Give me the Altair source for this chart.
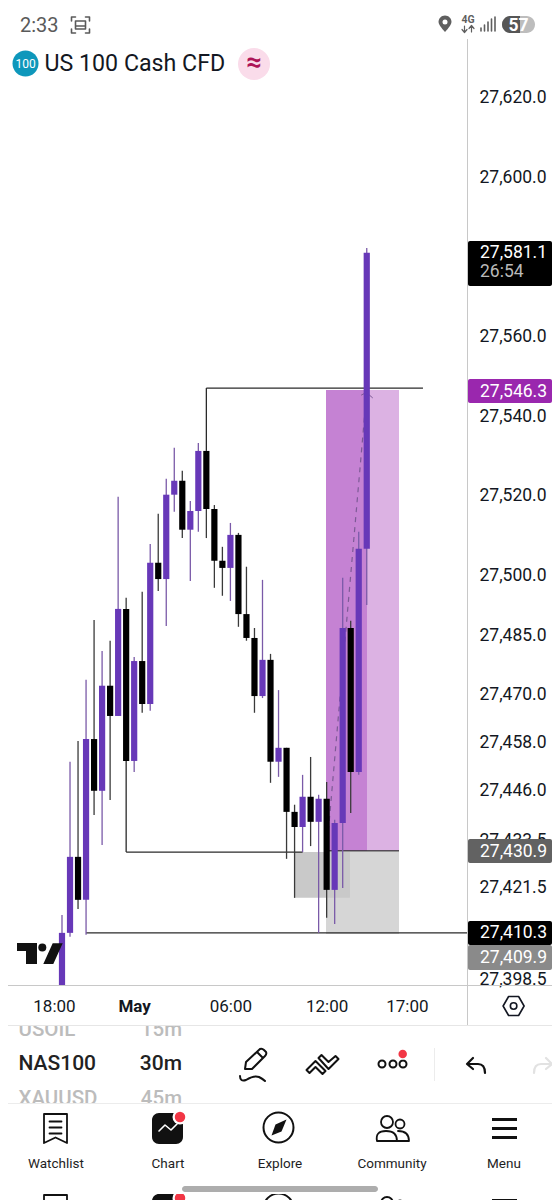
import altair as alt
import pandas as pd

# ---------- candle values ----------
opens = [27396.7,27409.8,27428.9,27418.1,27458.5,27445.5,27471.9,27464.3,27491.2,27453.0,
         27478.1,27467.3,27502.8,27498.7,27519.9,27523.4,27511.1,27515.8,27530.9,27516.3,
         27503.3,27501.5,27509.8,27489.9,27483.9,27469.3,27478.4,27452.8,27456.3,27440.2,
         27436.4,27444.0,27437.7,27443.5,27420.6,27437.4,27486.4,27450.2,27506.3]
highs = [27414.3,27452.8,27458.0,27473.4,27488.4,27480.6,27483.2,27519.4,27494.0,27479.1,
         27495.5,27507.5,27515.1,27523.9,27531.7,27525.9,27518.3,27532.9,27530.9,27517.3,
         27506.8,27512.8,27510.3,27501.8,27486.4,27498.5,27479.9,27470.8,27456.3,27442.0,
         27449.5,27454.0,27444.5,27447.7,27438.2,27499.0,27488.2,27510.6,27581.9]
lows = [27396.7,27408.8,27415.8,27409.3,27439.4,27431.9,27443.2,27464.3,27453.0,27450.2,
        27465.1,27465.6,27495.7,27486.9,27515.6,27509.0,27498.2,27510.6,27509.0,27496.5,
        27494.5,27493.2,27486.7,27483.2,27465.1,27468.8,27447.5,27449.0,27428.4,27418.6,
        27430.1,27431.6,27409.8,27413.6,27412.0,27421.1,27439.9,27449.5,27492.2]
closes = [27409.8,27428.9,27418.1,27458.5,27445.5,27471.9,27464.3,27491.2,27453.0,27478.1,
          27467.3,27502.8,27498.7,27519.9,27523.4,27511.1,27515.8,27530.9,27516.3,27503.3,
          27501.5,27509.8,27489.9,27483.9,27469.3,27478.4,27452.8,27456.3,27440.2,27436.4,
          27444.0,27437.7,27443.5,27420.6,27437.4,27486.4,27450.2,27506.3,27580.7]

price_ticks = [27620,27600,27560,27540,27520,27500,27485,27470,27458,27446,27433.5,27421.5,27398.5]
time_ticks = [-1,9,21,33,43]
time_labels = ["18:00","May","06:00","12:00","17:00"]

box_x1 = [32.92,32.92,32.92,28.93]
box_x2 = [42.02,38.03,42.02,35.91]
box_y1 = [27546.2,27546.2,27430.1,27430.1]
box_y2 = [27430.4,27430.4,27409.5,27418.6]
box_col = ["#dcb2e3","#c582d3","#d6d6d6","#c9c9c9"]

hline_x1 = [18,8,32.92,3]
hline_x2 = [45.01,30,42.02,50.5]
hline_y = [27546.7,27430.1,27430.4,27409.8]
vline_x = [18,8]
vline_y1 = [27530.9,27453.0]
vline_y2 = [27546.7,27430.1]

dash_x = [33,38]
dash_y = [27430.4,27546.0]
arrow_x = [37.3,37.95,38.75]
arrow_y = [27544.9,27545.6,27544.2]

PURPLE = "#6738b8"
PURPLE_W = "#7a5aa8"
BLACK = "#000000"
BLACK_W = "#3a3a3a"
FONT = "Roboto"
INK = "#131722"

df = pd.DataFrame({"i": range(len(opens)), "o": opens, "h": highs, "l": lows, "c": closes})
df["top"] = df[["o", "c"]].max(axis=1)
df["bot"] = df[["o", "c"]].min(axis=1)
df["col"] = [PURPLE if c >= o else BLACK for o, c in zip(opens, closes)]
df["wcol"] = [PURPLE_W if c >= o else BLACK_W for o, c in zip(opens, closes)]

x_scale = alt.Scale(domain=[-6.733, 50.5], nice=False, zero=False)
y_scale = alt.Scale(domain=[27396.7, 27634.4], nice=False, zero=False)
expr = "datum.value==-1?'18:00':datum.value==9?'May':datum.value==21?'06:00':datum.value==33?'12:00':'17:00'"
x_axis = alt.Axis(values=time_ticks, labelExpr=expr, title=None, grid=False, ticks=False, domain=True,
                  domainColor="#c8c8c8", labelFont=FONT, labelFontSize=17, labelColor=INK, labelPadding=13,
                  labelOverlap=False, labelFontWeight=alt.expr("datum.value==9?'bold':'normal'"))
y_axis = alt.Axis(orient="right", values=price_ticks, format=",.1f", title=None, grid=False, ticks=False,
                  domain=False, labelFont=FONT, labelFontSize=17.5, labelColor=INK, labelPadding=12,
                  labelOffset=1.5, labelOverlap=False, labelBound=False, labelFlush=False)

def X(f):
    return alt.X(f, type="quantitative", scale=x_scale, axis=x_axis)

def Y(f):
    return alt.Y(f, type="quantitative", scale=y_scale, axis=y_axis)

one = pd.DataFrame({"a": [0]})
PX = lambda v: alt.value(v - 8)
PY = lambda v: alt.value(v - 39)
ui = []

def text(t, x, y, size=14, color=INK, align="left", weight="normal"):
    ui.append(alt.Chart(one).mark_text(font=FONT, fontSize=size, color=color, align=align, baseline="middle",
                                       fontWeight=weight)
              .encode(text=alt.value(t), x=PX(x), y=PY(y)))

def rect(x1, x2, y1, y2, color, radius=0):
    ui.append(alt.Chart(one).mark_rect(color=color, cornerRadius=radius, opacity=1)
              .encode(x=PX(x1), x2=PX(x2), y=PY(y1), y2=PY(y2)))

def icon(path, x, y, stroke=None, fill=None, width=1.8):
    kw = dict(shape=path, size=4, opacity=1, strokeJoin="round", strokeCap="round")
    if fill:
        kw.update(filled=True, fill=fill, strokeWidth=0)
    else:
        kw.update(filled=False, stroke=stroke, strokeWidth=width, fill="transparent")
    ui.append(alt.Chart(one).mark_point(**kw).encode(x=PX(x), y=PY(y)))

def dot(x, y, d, fill=None, stroke=None, width=1.8):
    if fill:
        m = alt.Chart(one).mark_point(shape="circle", size=d * d, filled=True, fill=fill, opacity=1, strokeWidth=0)
    else:
        m = alt.Chart(one).mark_point(shape="circle", size=d * d, filled=False, stroke=stroke, strokeWidth=width, opacity=1)
    ui.append(m.encode(x=PX(x), y=PY(y)))

# ---------- chart marks ----------
boxes = alt.Chart(pd.DataFrame({"x1": box_x1, "x2": box_x2, "y1": box_y1, "y2": box_y2, "col": box_col})).mark_rect(opacity=1).encode(
    x=X("x1"), x2="x2:Q", y=Y("y1"), y2="y2:Q", color=alt.Color("col:N", scale=None))
hl = alt.Chart(pd.DataFrame({"x1": hline_x1, "x2": hline_x2, "y": hline_y})).mark_rule(color="#2a2a2a", strokeWidth=1.3).encode(
    x=X("x1"), x2="x2:Q", y=Y("y"))
vl = alt.Chart(pd.DataFrame({"x": vline_x, "y1": vline_y1, "y2": vline_y2})).mark_rule(color="#2a2a2a", strokeWidth=1.3).encode(
    x=X("x"), y=Y("y1"), y2="y2:Q")
dash = alt.Chart(pd.DataFrame({"x": dash_x, "y": dash_y})).mark_line(color="#7d5a96", strokeWidth=1.2, strokeDash=[5, 5]).encode(
    x=X("x"), y=Y("y"))
arrow = alt.Chart(pd.DataFrame({"x": arrow_x, "y": arrow_y})).mark_line(color="#7d5a96", strokeWidth=1).encode(
    x=X("x"), y=Y("y"))
wicks = alt.Chart(df).mark_rule(strokeWidth=1.3).encode(
    x=X("i"), y=Y("h"), y2="l:Q", color=alt.Color("wcol:N", scale=None))
bodies = alt.Chart(df).mark_rule(strokeWidth=6.2).encode(
    x=X("i"), y=Y("top"), y2="bot:Q", color=alt.Color("col:N", scale=None))

# ---------- TradingView mark ----------
icon("M-23 -10.5 H-3 V10.5 H-14 V-2.5 H-23 Z M12.7 -10.2 H22.7 L13.3 10.5 H3.3 Z", 40, 953.5, fill="#111111")
dot(42.3, 947.5, 8, fill="#111111")

# ---------- frame lines ----------
rect(8, 552, 985, 986, "#c8c8c8")
rect(467, 468, 39, 1025, "#c8c8c8")

# ---------- price tags ----------
rect(468, 552, 241, 286, "#000000", 2)
text("27,581.1", 480, 253, 17.5, "#ffffff")
text("26:54", 480, 272, 17.5, "#b9b9b9")
rect(468, 552, 379, 403, "#9a27ae", 2)
text("27,546.3", 480, 392, 17.5, "#ffffff")
rect(468, 552, 839, 863, "#626262", 2)
text("27,430.9", 480, 852, 17.5, "#ffffff")
rect(468, 552, 921, 945, "#000000", 2)
text("27,410.3", 480, 933, 17.5, "#ffffff")
rect(468, 552, 945, 970, "#8a8a8a", 2)
text("27,409.9", 480, 958, 17.5, "#ffffff")

# ---------- status bar ----------
text("2:33", 20, 26, 20, "#5a5a5a")
icon("M-9 -4 V-8 H-5 M5 -8 H9 V-4 M9 4 V8 H5 M-5 8 H-9 V4", 80.5, 25, stroke="#5a5a5a", width=1.6)
icon("M-5 -4 H5 V4 H-5 Z M-5 1 H5", 80.5, 25, stroke="#5a5a5a", width=1.6)
icon("M0 8 Q-6.5 1 -6.5 -2 A6.5 6.5 0 1 1 6.5 -2 Q6.5 1 0 8 Z", 445, 24, fill="#5f5f5f")
dot(445, 22, 5, fill="#ffffff")
text("4G", 468, 20, 10.5, "#5f5f5f", "center", "bold")
icon("M-3.5 -3 V3 M-6 0.5 L-3.5 3.5 L-1 0.5 M3.5 3 V-3 M1 -0.5 L3.5 -3.5 L6 -0.5", 468, 29, stroke="#5f5f5f", width=1.2)
icon("M-6 7 V4 M-2.5 7 V1 M1 7 V-2 M4.5 7 V-5 M8 7 V-7", 487, 24, stroke="#5f5f5f", width=1.6)
rect(502, 535, 16, 33, "#bdbdbd", 8.5)
rect(502, 520, 16, 33, "#565656", 8.5)
rect(512, 520, 16, 33, "#565656")
text("57", 518.5, 25.5, 17.5, "#ffffff", "center", "bold")

# ---------- symbol header ----------
dot(25.5, 63.5, 26, fill="#0e97bb")
text("100", 25.5, 64, 12, "#ffffff", "center")
text("US 100 Cash CFD", 44.5, 63.5, 23.2, "#131722")
dot(254, 64, 32, fill="#fadcea")
text("≈", 254, 63, 27, "#ad1457", "center", "bold")

# ---------- symbol list and drawing toolbar ----------
text("USOIL", 18.5, 1030, 20.5, "#bcbcbc", "left", 500)
text("15m", 182, 1030, 20.5, "#bcbcbc", "right", 500)
text("NAS100", 18.5, 1064, 21, "#222222", "left", 500)
text("30m", 182, 1064, 21, "#222222", "right", 500)
text("XAUUSD", 18.5, 1099, 20.5, "#bcbcbc", "left", 500)
text("45m", 182, 1099, 20.5, "#bcbcbc", "right", 500)
rect(8, 467, 1017, 1025, "#ffffff")
rect(8, 552, 1025, 1026, "#e6e6e6")
rect(8, 552, 1103, 1125, "#ffffff")
rect(8, 552, 1103, 1104, "#ececec")
rect(434, 435, 1048, 1081, "#ececec")

icon("M-9 9 L-8 2 L6 -11 Q8 -12 10 -10 L12 -8 Q13 -6 11 -4 L-2 9 Z M3 -8 L9 -2", 254, 1060, stroke="#111111", width=2)
icon("M-12 -2 Q-12 4 -6 2 Q2 -3 7 -1 Q11 1 13 3", 252, 1078, stroke="#111111", width=2)
icon("M-16 5 L-7 -4 L3 6 L0 9 L-7 2 L-13 8 Z M-4 -7 L-1 -10 L6 -3 L13 -9 L16 -6 L6 4 Z", 322.5, 1065, stroke="#111111", width=2)
dot(382, 1064, 7, stroke="#111111", width=2)
dot(393, 1064, 7, stroke="#111111", width=2)
dot(403, 1064, 7, stroke="#111111", width=2)
dot(402.7, 1054, 11, fill="#ffffff")
dot(402.7, 1054, 8.5, fill="#f23645")
icon("M-3 -7 L-9 -1 L-3 4 M-9 -1 H2 Q9 -1 9 8", 476, 1065, stroke="#111111", width=2.2)
icon("M3 -7 L9 -1 L3 4 M9 -1 H-2 Q-9 -1 -9 8", 543, 1065, stroke="#e2e2e2", width=2.2)
icon("M-10.5 0 L-5 -9.5 L5 -9.5 L10.5 0 L5 9.5 L-5 9.5 Z", 513.6, 1006, stroke="#131722", width=1.6)
dot(513.6, 1006, 6.5, stroke="#131722", width=1.6)

# ---------- bottom navigation (and its cut-off repeat) ----------
def nav(dy):
    icon("M-11.5 -14.5 H11.5 V14.5 L0 9 L-11.5 14.5 Z M-6 -7 H6 M-6 -1 H6 M-6 5 H6", 55.5, 1128.5 + dy, stroke="#111111", width=1.8)
    rect(152, 183, 1113 + dy, 1144 + dy, "#111111", 7)
    dot(180, 1117 + dy, 15, fill="#ffffff")
    dot(180, 1117 + dy, 10.5, fill="#f23645")
    icon("M-9 2 L-3 -4 L3 1 L9 -5", 168, 1129 + dy, stroke="#ffffff", width=1.6)
    dot(278.5, 1127.5 + dy, 30, stroke="#111111", width=2)
    icon("M8 -8 L3 4 L-7 8 L-3 -3 Z", 278.5, 1127.5 + dy, fill="#111111")
    dot(387, 1122 + dy, 12, stroke="#111111", width=1.8)
    dot(400, 1124 + dy, 9, stroke="#111111", width=1.8)
    icon("M-15 13 Q-17 3 -6 3 Q5 3 5 13 Z M6 3 Q17 3 17 13 H5", 392, 1128 + dy, stroke="#111111", width=1.8)
    rect(492, 517, 1118 + dy, 1121 + dy, "#111111")
    rect(492, 517, 1127 + dy, 1130 + dy, "#111111")
    rect(492, 517, 1136 + dy, 1139 + dy, "#111111")

nav(0)
nav(81)
rect(8, 552, 1150, 1194, "#ffffff")
for name, cx in zip(["Watchlist", "Chart", "Explore", "Community", "Menu"], [56, 168, 280, 392, 504]):
    text(name, cx, 1164, 13.5, "#1e1e1e", "center", "normal")
rect(182, 378, 1186, 1192, "#adadad", 3)

chart = alt.layer(boxes, hl, vl, dash, arrow, wicks, bodies, *ui).properties(
    width=459, height=946,
    padding={"left": 0, "top": 31, "right": 85, "bottom": 215},
    autosize=alt.AutoSizeParams(type="none"),
    background="#ffffff",
).configure_view(stroke=None)

chart.save("out.html", embed_options={"renderer": "svg", "actions": False})
